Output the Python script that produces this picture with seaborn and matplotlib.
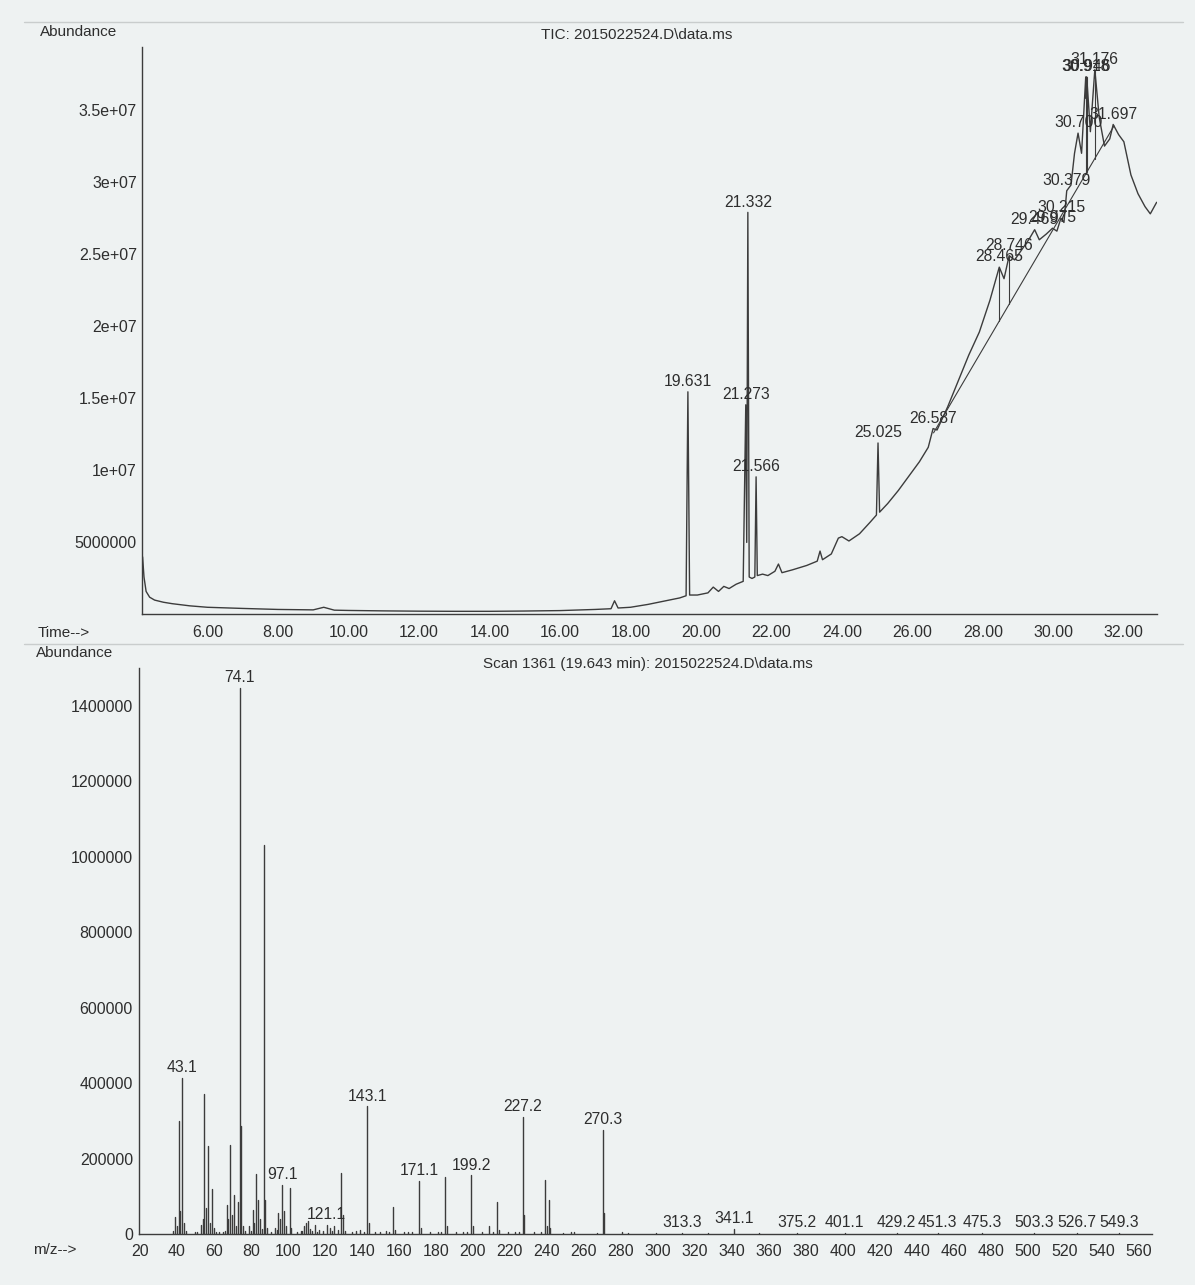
import matplotlib
matplotlib.use("Agg")
import matplotlib.pyplot as plt
from matplotlib.ticker import MultipleLocator, FixedLocator, FixedFormatter
import numpy as np
import pandas as pd
import seaborn as sns

sns.set_theme(style="white")
plt.rcParams['font.family'] = ['Liberation Sans', 'DejaVu Sans']

# ---------------- Total ion chromatogram ----------------
tic_time = [
    4.16, 4.20, 4.26, 4.36, 4.50, 4.75, 5.0, 5.5, 6.0, 7.0, 8.0, 9.0, 9.3, 9.6,
    10.0, 11.0, 12.0, 13.0, 14.0, 15.0, 16.0, 17.0, 17.45, 17.55, 17.65,
    18.0, 18.5, 19.0, 19.4, 19.58, 19.631, 19.68, 19.9, 20.2, 20.35, 20.5,
    20.65, 20.8, 21.0, 21.2, 21.273, 21.30, 21.332, 21.37, 21.45, 21.53,
    21.566, 21.60, 21.75, 21.9, 22.1, 22.2, 22.3, 22.6, 23.0, 23.3, 23.38,
    23.45, 23.7, 23.9, 24.0, 24.2, 24.5, 24.8, 24.98, 25.025, 25.07, 25.3,
    25.6, 25.9, 26.2, 26.45, 26.587, 26.7, 27.0, 27.3, 27.6, 27.9, 28.2,
    28.465, 28.6, 28.746, 28.9, 29.1, 29.3, 29.469, 29.6, 29.8, 29.975, 30.1,
    30.215, 30.3, 30.379, 30.5, 30.6, 30.700, 30.8, 30.918, 30.932, 30.946,
    31.05, 31.176, 31.3, 31.45, 31.6, 31.697, 31.85, 32.0, 32.2, 32.4, 32.6,
    32.75, 32.93,
]
tic_abund_millions = [
    4.0, 2.6, 1.6, 1.2, 1.0, 0.85, 0.75, 0.6, 0.5, 0.42, 0.35, 0.32, 0.5, 0.3,
    0.28, 0.25, 0.23, 0.22, 0.22, 0.24, 0.27, 0.35, 0.4, 0.95, 0.45,
    0.5, 0.7, 0.95, 1.15, 1.3, 15.45, 1.35, 1.35, 1.5, 1.9, 1.6,
    1.95, 1.8, 2.1, 2.3, 14.55, 5.0, 27.9, 2.6, 2.5, 2.6,
    9.55, 2.7, 2.8, 2.7, 3.0, 3.5, 2.9, 3.1, 3.4, 3.7, 4.4,
    3.8, 4.2, 5.3, 5.4, 5.1, 5.6, 6.4, 6.9, 11.9, 7.1, 7.7,
    8.6, 9.6, 10.6, 11.6, 12.9, 12.8, 14.4, 16.2, 18.0, 19.6, 21.8,
    24.1, 23.3, 24.9, 24.6, 25.3, 26.0, 26.7, 26.0, 26.4, 26.8, 26.6,
    27.5, 27.2, 29.4, 29.8, 32.0, 33.4, 32.0, 37.3, 35.8, 37.3,
    33.5, 37.8, 34.5, 32.5, 33.0, 34.0, 33.3, 32.8, 30.5, 29.2, 28.3,
    27.8, 28.6,
]
tic_peak_labels = ["19.631", "21.273", "21.332", "21.566", "25.025", "26.587",
                   "28.465", "28.746", "29.469", "29.975", "30.215", "30.379",
                   "30.700", "30.918", "30.946", "31.176", "31.697"]
# integration baseline under the late cluster and its drop lines
integ_base_time = [26.60, 31.72]
integ_base_millions = [12.6, 33.9]
drop_line_labels = ["28.465", "28.746", "30.918", "30.946", "31.176"]

tic_y_ticks = [5e6, 1e7, 1.5e7, 2e7, 2.5e7, 3e7, 3.5e7]
tic_y_ticklabels = ["5000000", "1e+07", "1.5e+07", "2e+07", "2.5e+07", "3e+07", "3.5e+07"]
tic_x_ticks = [6, 8, 10, 12, 14, 16, 18, 20, 22, 24, 26, 28, 30, 32]

# ---------------- Mass spectrum, scan 1361 ----------------
ms_mz = [38, 39, 40, 41, 42, 43.1, 44, 45, 50, 51, 53, 54, 55, 56, 57, 58, 59,
         60, 61, 63, 65, 66, 67, 68, 69, 70, 71, 72, 73, 74.1, 75, 76, 77, 79,
         80, 81, 82, 83, 84, 85, 86, 87, 88, 89, 91, 93, 94, 95, 96, 97.1, 98,
         99, 101, 102, 105, 107, 108, 109, 110, 111, 112, 113, 115, 116, 117,
         119, 121.1, 123, 124, 125, 127, 129, 130, 131, 135, 137, 139, 141,
         143.1, 144, 147, 150, 153, 155, 157, 158, 163, 165, 167, 171.1, 172,
         177, 181, 183, 185, 186, 191, 195, 197, 199.2, 200, 205, 209, 211,
         213, 214, 219, 223, 225, 227.2, 228, 233, 237, 239, 240, 241, 242,
         249, 253, 255, 267, 270.3, 271, 281, 284, 299, 313.3, 327, 341.1,
         355, 375.2, 401.1, 415, 429.2, 451.3, 475.3, 503.3, 526.7, 549.3]
ms_abund = [8000, 45000, 20000, 300000, 60000, 414000, 30000, 8000, 4000,
            6000, 25000, 40000, 370000, 70000, 232000, 30000, 120000,
            15000, 5000, 4000, 6000, 9000, 77000, 40000, 236000, 50000,
            103000, 20000, 85000, 1448000, 285000, 20000, 7000, 20000,
            9000, 64000, 30000, 160000, 90000, 40000, 12000, 1032000, 90000,
            15000, 6000, 15000, 10000, 56000, 40000, 130000, 60000,
            20000, 122000, 15000, 6000, 8000, 7000, 20000, 29000, 35000,
            12000, 9000, 25000, 6000, 10000,
            9000, 25000, 15000, 8000, 20000, 10000, 161000, 50000, 8000,
            6000, 8000, 10000, 5000,
            338000, 30000, 5000, 6000, 8000, 5000, 72000, 10000, 4000, 6000,
            4000, 140000, 15000,
            4000, 5000, 4000, 152000, 20000, 4000, 6000, 4000, 155000, 20000,
            5000, 20000, 6000,
            86000, 10000, 4000, 5000, 4000, 311000, 50000, 4000, 5000, 143000,
            20000, 90000, 15000,
            3000, 4000, 5000, 3000, 276000, 56000, 4000, 3000, 2000, 3500,
            1500, 14000,
            1500, 3000, 3000, 1000, 3500, 3000, 3000, 3000, 3000, 3000]
ms_peak_labels = ["43.1", "74.1", "97.1", "121.1", "143.1", "171.1", "199.2",
                  "227.2", "270.3", "313.3", "341.1", "375.2", "401.1", "429.2",
                  "451.3", "475.3", "503.3", "526.7", "549.3"]
ms_y_ticks = [0, 200000, 400000, 600000, 800000, 1000000, 1200000, 1400000]
ms_x_ticks = list(range(20, 561, 20))

# ---------------- styling ----------------
paper = "#eef2f2"
ink = "#2e2e2e"
trace = "#3c3c3c"
fs_tick = 11.5
fs_label = 11.3

fig = plt.figure(figsize=(11.95, 12.85), dpi=100, facecolor=paper)
ax_tic = fig.add_axes([0.1192, 0.5218, 0.8490, 0.4419])
ax_ms = fig.add_axes([0.1159, 0.0397, 0.8485, 0.4405])
for ax in (ax_tic, ax_ms):
    ax.set_facecolor("none")
    for side in ("top", "right"):
        ax.spines[side].set_visible(False)
    for side in ("left", "bottom"):
        ax.spines[side].set_color(trace)
        ax.spines[side].set_linewidth(1.0)
    ax.tick_params(axis="both", colors=ink, labelsize=fs_tick, width=0.8)
    ax.tick_params(axis="y", direction="out", length=3, pad=1)
    ax.tick_params(axis="x", which="major", direction="inout", length=7, pad=4)
    ax.tick_params(axis="x", which="minor", direction="inout", length=4,
                   width=0.7, color=ink)

# --- chromatogram trace ---
tic_df = pd.DataFrame({"time": tic_time,
                       "abund": np.array(tic_abund_millions) * 1e6})
sns.lineplot(data=tic_df, x="time", y="abund", ax=ax_tic, sort=False,
             estimator=None, color=trace, lw=1.0)

# integration baseline and drop lines
seg_rows = [{"seg": 0, "time": t, "abund": a * 1e6}
            for t, a in zip(integ_base_time, integ_base_millions)]
rt_lookup = dict(zip([f"{t:.3f}" for t in tic_time], tic_abund_millions))
for i, lab in enumerate(drop_line_labels, start=1):
    t = float(lab)
    base = np.interp(t, integ_base_time, integ_base_millions)
    seg_rows.append({"seg": i, "time": t, "abund": rt_lookup[lab] * 1e6})
    seg_rows.append({"seg": i, "time": t, "abund": base * 1e6})
seg_df = pd.DataFrame(seg_rows)
sns.lineplot(data=seg_df, x="time", y="abund", units="seg", estimator=None,
             sort=False, ax=ax_tic, color=trace, lw=0.8)

for lab in tic_peak_labels:
    ax_tic.annotate(lab, (float(lab), rt_lookup[lab] * 1e6), xytext=(0, 2),
                    textcoords="offset points", ha="center", va="bottom",
                    fontsize=fs_label, color=ink)

ax_tic.set_xlim(4.156, 32.94)
ax_tic.set_ylim(0, 3.94e7)
ax_tic.xaxis.set_major_locator(FixedLocator(tic_x_ticks))
ax_tic.set_xticklabels([f"{t:.2f}" for t in tic_x_ticks])
ax_tic.xaxis.set_minor_locator(MultipleLocator(0.5))
ax_tic.yaxis.set_major_locator(FixedLocator(tic_y_ticks))
ax_tic.yaxis.set_major_formatter(FixedFormatter(tic_y_ticklabels))
ax_tic.set_xlabel("")
ax_tic.set_ylabel("")

# --- mass spectrum stems ---
stem_rows = []
for i, (m, a) in enumerate(zip(ms_mz, ms_abund)):
    stem_rows.append({"peak": i, "mz": m, "abund": 0})
    stem_rows.append({"peak": i, "mz": m, "abund": a})
stem_df = pd.DataFrame(stem_rows)
sns.lineplot(data=stem_df, x="mz", y="abund", units="peak", estimator=None,
             sort=False, ax=ax_ms, color=trace, lw=1.0)

ms_lookup = dict(zip([str(m) for m in ms_mz], ms_abund))
for lab in ms_peak_labels:
    ax_ms.annotate(lab, (float(lab), ms_lookup[lab]), xytext=(0, 2),
                   textcoords="offset points", ha="center", va="bottom",
                   fontsize=fs_label, color=ink)

ax_ms.set_xlim(19.35, 567.5)
ax_ms.set_ylim(0, 1.5e6)
ax_ms.xaxis.set_major_locator(FixedLocator(ms_x_ticks))
ax_ms.set_xticklabels([str(t) for t in ms_x_ticks])
ax_ms.xaxis.set_minor_locator(MultipleLocator(5))
ax_ms.yaxis.set_major_locator(FixedLocator(ms_y_ticks))
ax_ms.set_yticklabels([str(t) for t in ms_y_ticks])
ax_ms.set_xlabel("")
ax_ms.set_ylabel("")

# --- page text ---
fig.text(0.0335, 1 - 32 / 1285, "Abundance", ha="left", va="center",
         fontsize=11, color=ink)
fig.text(0.533, 1 - 35 / 1285, "TIC: 2015022524.D\\data.ms", ha="center",
         va="center", fontsize=11, color=ink)
fig.text(0.0318, 1 - 633 / 1285, "Time-->", ha="left", va="center",
         fontsize=11, color=ink)
fig.text(0.030, 1 - 653 / 1285, "Abundance", ha="left", va="center",
         fontsize=11, color=ink)
fig.text(0.542, 1 - 664 / 1285, "Scan 1361 (19.643 min): 2015022524.D\\data.ms",
         ha="center", va="center", fontsize=11, color=ink)
fig.text(0.0276, 1 - 1250 / 1285, "m/z-->", ha="left", va="center",
         fontsize=11, color=ink)

# faint rules of the printout page
for yy in (22, 644):
    fig.add_artist(plt.Line2D([0.02, 0.99], [1 - yy / 1285, 1 - yy / 1285],
                              transform=fig.transFigure, color="#c9cdcd", lw=1.0))

fig.savefig("out.png", dpi=100, facecolor=paper)
